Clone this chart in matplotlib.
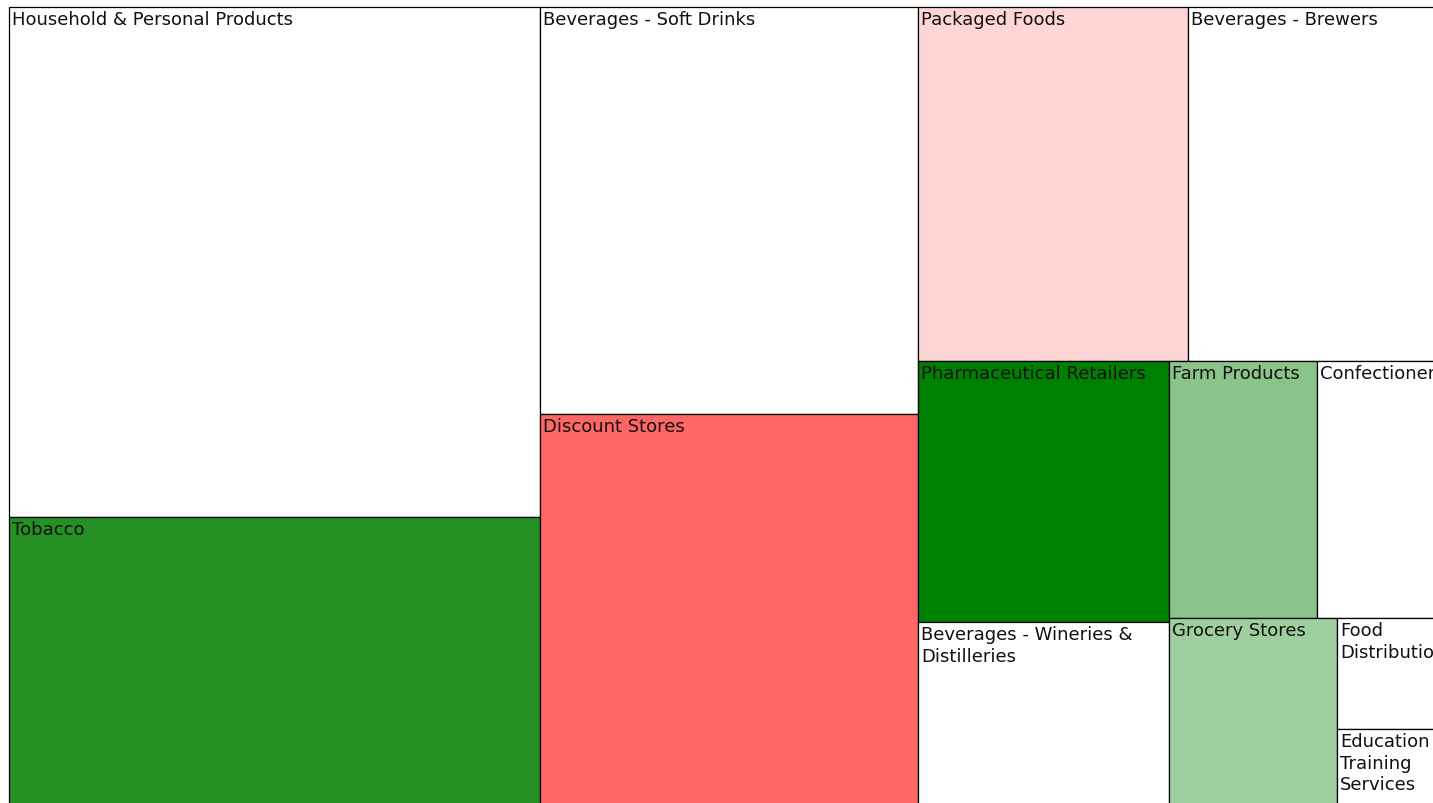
import matplotlib
matplotlib.use("Agg")
import matplotlib.pyplot as plt
from matplotlib.patches import Rectangle

# ---- data ----
categories = [
    "Household & Personal Products", "Tobacco", "Beverages - Soft Drinks",
    "Discount Stores", "Packaged Foods", "Beverages - Brewers",
    "Pharmaceutical Retailers", "Beverages - Wineries & Distilleries",
    "Farm Products", "Confectioners", "Grocery Stores", "Food Distribution",
    "Education Training Services",
]
sizes = [270.8, 157.7, 153.8, 151.2, 95.6, 92.7, 65.5, 48.2, 38.0, 34.2, 32.9, 12.5, 9.6]
colors = [
    "#ffffff", "#259125", "#ffffff", "#ff6666", "#ffd6d6", "#ffffff",
    "#008000", "#ffffff", "#8ac48a", "#ffffff", "#9fcf9f", "#ffffff", "#ffffff",
]

# ---- squarified layout ----
def layout_row(vals, x, y, dx, dy):
    covered = sum(vals)
    rects = []
    if dx >= dy:
        w = covered / dy
        for v in vals:
            h = v / w
            rects.append((x, y, w, h))
            y += h
    else:
        h = covered / dx
        for v in vals:
            w = v / h
            rects.append((x, y, w, h))
            x += w
    return rects

def leftover(vals, x, y, dx, dy):
    covered = sum(vals)
    if dx >= dy:
        w = covered / dy
        return x + w, y, dx - w, dy
    h = covered / dx
    return x, y + h, dx, dy - h

def worst(vals, x, y, dx, dy):
    return max(max(w / h, h / w) for (_, _, w, h) in layout_row(vals, x, y, dx, dy))

def squarify(vals, x, y, dx, dy):
    if not vals:
        return []
    if len(vals) == 1:
        return layout_row(vals, x, y, dx, dy)
    i = 1
    while i < len(vals) and worst(vals[:i], x, y, dx, dy) >= worst(vals[:i + 1], x, y, dx, dy):
        i += 1
    cur, rest = vals[:i], vals[i:]
    lx, ly, ldx, ldy = leftover(cur, x, y, dx, dy)
    return layout_row(cur, x, y, dx, dy) + squarify(rest, lx, ly, ldx, ldy)

W, H = 1433, 804
X0, Y0, TW, TH = 9, 8, 1441, 807
total = sum(sizes)
norm = [s * TW * TH / total for s in sizes]
rects = squarify(norm, X0, Y0, TW, TH)

fig = plt.figure(figsize=(W / 100, H / 100), dpi=100)
ax = fig.add_axes([0, 0, 1, 1])
ax.set_xlim(0, W)
ax.set_ylim(H, 0)
ax.axis("off")

FONT = dict(family=["DejaVu Sans"], size=13.0, color="#111111")
renderer = fig.canvas.get_renderer()

def text_width(s):
    t = ax.text(0, 0, s, **FONT)
    w = t.get_window_extent(renderer).width
    t.remove()
    return w

def wrap(label, maxw):
    words = label.split(" ")
    lines, cur = [], ""
    for wd in words:
        trial = wd if not cur else cur + " " + wd
        if cur and text_width(trial) > maxw:
            lines.append(cur)
            cur = wd
        else:
            cur = trial
    lines.append(cur)
    return "\n".join(lines)

for (x, y, w, h), lab, c in zip(rects, categories, colors):
    ax.add_patch(Rectangle((x, y), w, h, facecolor=c, edgecolor="#000000", linewidth=0.9))
    ax.text(x + 3, y + 3, wrap(lab, w - 6), ha="left", va="top",
            linespacing=1.27, clip_on=True, **FONT)

fig.savefig("out.png", dpi=100)
